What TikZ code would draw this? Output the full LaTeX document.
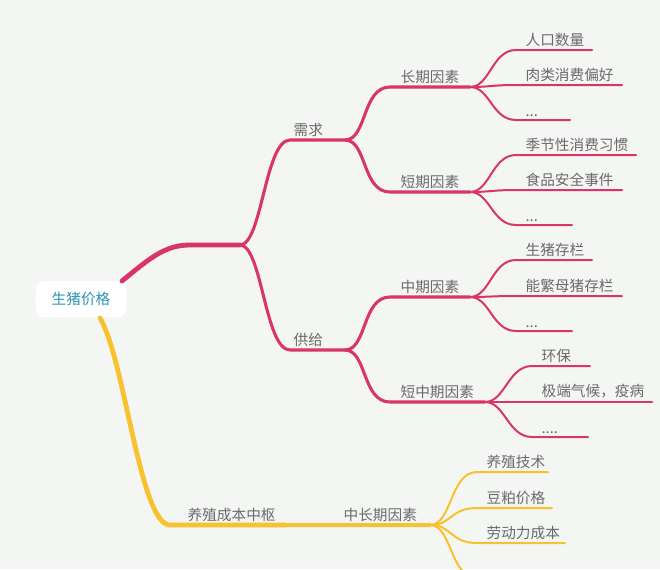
\documentclass[tikz,border=0pt]{standalone}
\usepackage{fontspec}
\usetikzlibrary{calc}
\setmainfont{Noto Sans CJK SC}
\definecolor{bg}{HTML}{F4F6F4}
\definecolor{rose}{HTML}{D93568}
\definecolor{gold}{HTML}{F8C22E}
\definecolor{txt}{HTML}{6A6A6A}
\definecolor{rootc}{HTML}{2A95B5}
\newcommand\moredots{...}
\newcommand\moredotsb{....}
\tikzset{
  lbl/.style={text=txt, font=\fontsize{11}{13}\selectfont, anchor=south west, inner sep=1pt},
  trunk/.style={line width=3.6pt, line cap=round},
  limb/.style={line width=2.3pt, line cap=round},
  twig/.style={line width=1.5pt, line cap=round},
}
\begin{document}
\begin{tikzpicture}[x=0.75pt,y=-0.75pt]
\fill[bg] (0,0) rectangle (660,569);
\useasboundingbox (0,0) rectangle (660,569);
% root
\node[fill=white, rounded corners=6pt, minimum width=68pt, minimum height=27pt, text=rootc, font=\fontsize{11}{13}\selectfont] (root) at (81,299) {生猪价格};
% demand / supply
\coordinate (p0) at (122,281); \coordinate (p1) at (240,245);
\draw[rose,trunk] (p0) .. controls (150,258) and (165,245) .. (190,245) -- (p1);
\coordinate (d0) at (345,140); \coordinate (s0) at (345,350);
\draw[rose,limb] (p1) .. controls (262,245) and (265,140) .. (290,140) -- (d0);
\draw[rose,limb] (p1) .. controls (262,245) and (265,350) .. (290,350) -- (s0);
\node[lbl] (demand) at (292,138) {需求};
\node[lbl] (supply) at (292,348) {供给};
% second level
\foreach \a/\y/\e/\nm/\t in {d0/87/470/lt/长期因素, d0/192/470/st/短期因素, s0/297/470/mt/中期因素, s0/402/485/smt/短中期因素}{
  \coordinate (\nm) at (\e,\y);
  \draw[rose,limb] (\a) .. controls ($(\a)+(22,0)$) and (362,\y) .. (390,\y) -- (\nm);
  \node[lbl] at (399,{\y-2}) {\t};
}
% leaves
\foreach \a/\x/\y/\e/\t in {lt/524/50/592/人口数量, lt/524/85/622/肉类消费偏好, lt/524/120/570/\moredots, st/524/155/636/季节性消费习惯, st/524/190/622/食品安全事件, st/524/225/572/\moredots, mt/524/260/592/生猪存栏, mt/524/296/622/能繁母猪存栏, mt/524/331/572/\moredots, smt/540/366/590/环保, smt/540/402/652/极端气候，疫病, smt/540/437/588/\moredotsb}{
  \coordinate (leaf) at (\e,\y);
  \draw[rose,twig] (\a) .. controls ($(\a)+(20,0)$) and ({\x-32},\y) .. ({\x-8},\y) -- (leaf);
  \node[lbl] at (\x,{\y-2}) {\t};
}
% cost branch
\coordinate (y0) at (100,318); \coordinate (y1) at (285,525); \coordinate (y2) at (430,525);
\draw[gold,trunk] (y0) .. controls (125,360) and (140,525) .. (170,525) -- (y1);
\draw[gold,limb] (y1) -- (y2);
\node[lbl] at (186,523) {养殖成本中枢};
\node[lbl] at (342,523) {中长期因素};
\foreach \x/\y/\e/\t in {485/472/548/养殖技术, 485/508/552/豆粕价格, 485/543/565/劳动力成本, 485/578/520/\moredots}{
  \coordinate (leaf) at (\e,\y);
  \draw[gold,twig] (y2) .. controls (452,525) and (450,\y) .. (477,\y) -- (leaf);
  \node[lbl] at (\x,{\y-2}) {\t};
}
\end{tikzpicture}
\end{document}
